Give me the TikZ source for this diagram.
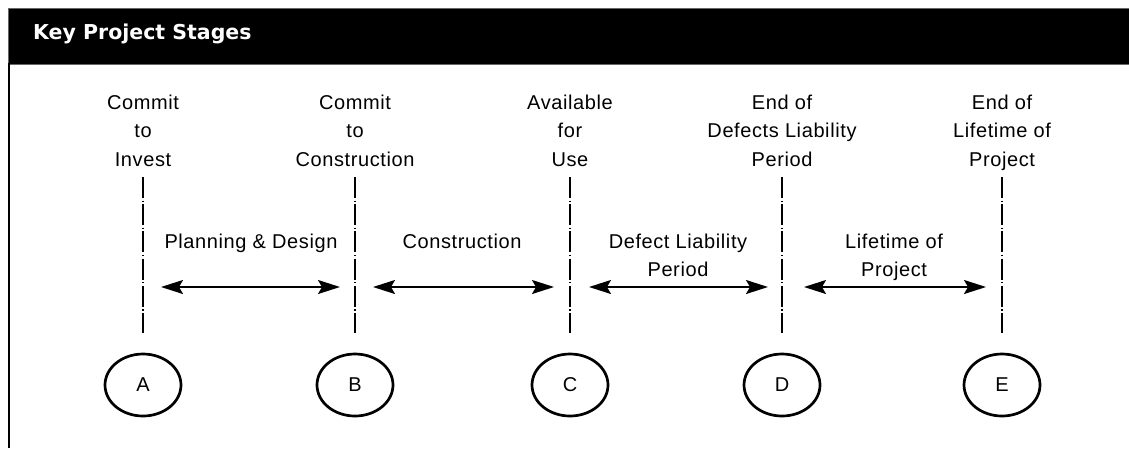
\documentclass[tikz,border=0pt]{standalone}
\usepackage{fontspec}
\setmainfont{Liberation Sans}[LetterSpace=3]
\newfontfamily\headfont{DejaVu Sans}
\usetikzlibrary{arrows.meta,shapes.geometric}
\begin{document}
\begin{tikzpicture}[x=1pt,y=-1pt,
  lbl/.style={align=center,font=\fontsize{20}{28.5}\selectfont,inner sep=0pt,anchor=north},
  stageline/.style={line width=1.3pt,dash pattern=on 21pt off 2.5pt on 1.2pt off 2.5pt},
  spanarrow/.style={line width=1.7pt,>={Stealth[length=22pt,width=14pt,inset=4pt]},<->},
  milestone/.style={draw,ellipse,line width=2.7pt,minimum width=76pt,minimum height=62pt,inner sep=0pt,font=\fontsize{20}{24}\selectfont}]
\useasboundingbox (0,0) rectangle (1129,448);
% header
\node[fill=black,draw=black!60,line width=0.6pt,anchor=north west,minimum width=1125pt,minimum height=56pt,inner sep=0pt] (header) at (8,7.5) {};
\node[anchor=base west,text=white,inner sep=0pt,font=\headfont\bfseries\fontsize{20.5}{25}\selectfont] (title) at (33,39) {Key Project Stages};
\coordinate (bordertop) at (9,63);
\coordinate (borderbot) at (9,448);
\draw[line width=1.5pt] (bordertop) -- (borderbot);
% stage labels
\node[lbl] (tA) at (143,94.5) {Commit\\to\\Invest};
\node[lbl] (tB) at (355,94.5) {Commit\\to\\Construction};
\node[lbl] (tC) at (570,94.5) {Available\\for\\Use};
\node[lbl] (tD) at (782,94.5) {End of\\Defects Liability\\Period};
\node[lbl] (tE) at (1002,94.5) {End of\\Lifetime of\\Project};
% milestones
\node[milestone] (mA) at (143,385) {A};
\node[milestone] (mB) at (355,385) {B};
\node[milestone] (mC) at (570,385) {C};
\node[milestone] (mD) at (782,385) {D};
\node[milestone] (mE) at (1002,385) {E};
% vertical lines
\foreach \n/\x in {A/143,B/355,C/570,D/782,E/1002}{
  \coordinate (\n1) at (\x,177);
  \coordinate (\n2) at (\x,333);
  \draw[stageline] (\n1) -- (\n2);
}
% spans
\node[lbl] (pAB) at (251,233.5) {Planning \& Design};
\node[lbl] (pBC) at (462,233.5) {Construction};
\node[lbl] (pCD) at (678,233.5) {Defect Liability\\Period};
\node[lbl] (pDE) at (894,233.5) {Lifetime of\\Project};
\coordinate (sAB1) at (161,287); \coordinate (sAB2) at (340,287);
\coordinate (sBC1) at (373,287); \coordinate (sBC2) at (554,287);
\coordinate (sCD1) at (589,287); \coordinate (sCD2) at (768,287);
\coordinate (sDE1) at (804,287); \coordinate (sDE2) at (986,287);
\draw[spanarrow] (sAB1) -- (sAB2);
\draw[spanarrow] (sBC1) -- (sBC2);
\draw[spanarrow] (sCD1) -- (sCD2);
\draw[spanarrow] (sDE1) -- (sDE2);
\end{tikzpicture}
\end{document}
